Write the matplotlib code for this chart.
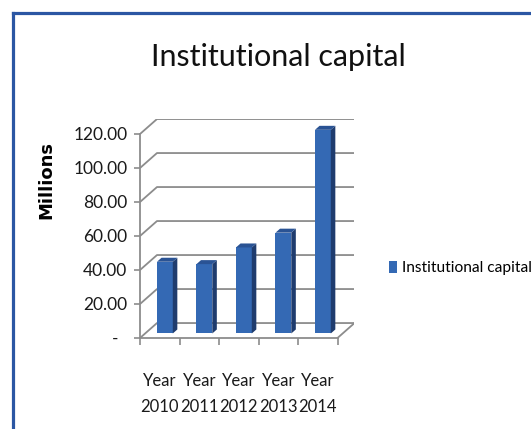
import matplotlib
matplotlib.use("Agg")
import matplotlib.pyplot as plt
from matplotlib.patches import Polygon, Patch
from matplotlib.lines import Line2D

years = ["2010", "2011", "2012", "2013", "2014"]
capital = [42.2, 40.8, 50.6, 59.3, 119.8]   # millions
yticks = [0, 20, 40, 60, 80, 100, 120]
series_name = "Institutional capital"

font = "Lato"

# oblique offset of the back wall, in (category, value) units
DX, DY = 0.43, 8.8
# bar placement inside the depth
bx0, by0 = 0.13, 2.66
bdx, bdy = 0.115, 2.35
width = 0.4

front_c = "#3469B4"
side_c = "#1F3C6E"
top_c = "#2A5394"
grid_c = "#8c8c8c"

W, H = 531, 429
fig = plt.figure(figsize=(W / 100, H / 100), dpi=100)
ppc, ppv = 39.5, 1.7
ax = fig.add_axes([140 / W, (H - 338) / H, (5 + DX) * ppc / W, (120 + DY) * ppv / H])
ax.set_xlim(-0.5, 4.5 + DX)
ax.set_ylim(0, 120 + DY)

# walls: gridlines running along the side wall and then the back wall
for v in yticks:
    ax.plot([-0.5, -0.5 + DX, 4.5 + DX], [v, v + DY, v + DY],
            color=grid_c, lw=1.3, zorder=1, solid_capstyle="butt")
ax.plot([4.5, 4.5 + DX], [0, DY], color=grid_c, lw=1.3, zorder=1)

# bars: front face, side face, top face
xs = list(range(len(years)))
ax.bar([x + bx0 for x in xs], capital, width, bottom=by0, color=front_c,
       label=series_name, zorder=3)
for x, v in zip(xs, capital):
    xl = x + bx0 - width / 2
    xr = x + bx0 + width / 2
    top = by0 + v
    ax.add_patch(Polygon([(xr, by0), (xr + bdx, by0 + bdy), (xr + bdx, top + bdy), (xr, top)],
                         closed=True, facecolor=side_c, edgecolor="none", zorder=3))
    ax.add_patch(Polygon([(xl, top), (xr, top), (xr + bdx, top + bdy), (xl + bdx, top + bdy)],
                         closed=True, facecolor=top_c, edgecolor="none", zorder=3))

for s in ["top", "right"]:
    ax.spines[s].set_visible(False)
ax.spines["left"].set_bounds(0, 120)
ax.spines["bottom"].set_bounds(-0.5, 4.5)
for s in ["left", "bottom"]:
    ax.spines[s].set_color(grid_c)
    ax.spines[s].set_linewidth(1.3)

ax.set_yticks(yticks)
ax.set_yticklabels(["-  "] + ["%.2f" % v for v in yticks[1:]], family=font, fontsize=12.5)
ax.tick_params(axis="y", length=4, width=1.2, color=grid_c, pad=5, labelcolor="#1a1a1a")

ax.set_xticks(xs)
ax.set_xticklabels(["Year\n" + y for y in years], family=font, fontsize=12,
                   linespacing=1.8, color="#1a1a1a")
ax.set_xticks([x - 0.5 for x in range(len(years) + 1)], minor=True)
ax.tick_params(axis="x", which="major", length=0, pad=25)
ax.tick_params(axis="x", which="minor", length=5, width=1.2, color=grid_c)

ax.set_ylabel("Millions", family="DejaVu Sans", fontweight="bold", fontsize=13)
ax.yaxis.set_label_coords(-0.395, 0.72)

fig.text(278 / W, 1 - 57 / H, series_name, family=font, fontsize=22,
         ha="center", va="center", color="#111111")

fig.legend(handles=[Patch(facecolor=front_c, label=series_name)], loc="center left",
           bbox_to_anchor=(383 / W, 1 - 268 / H), frameon=False,
           prop={"family": font, "size": 11.2}, handlelength=0.5, handleheight=0.85,
           handletextpad=0.35, borderaxespad=0)

# frame along the top and left of the chart area
border = "#2B56A3"
fig.add_artist(Line2D([12.5 / W, 12.5 / W], [0, 1 - 12.5 / H], color=border, lw=2.3,
                      transform=fig.transFigure))
fig.add_artist(Line2D([12.5 / W, 1], [1 - 12.5 / H, 1 - 12.5 / H], color=border, lw=2.3,
                      transform=fig.transFigure))

fig.savefig("out.png", dpi=100)
